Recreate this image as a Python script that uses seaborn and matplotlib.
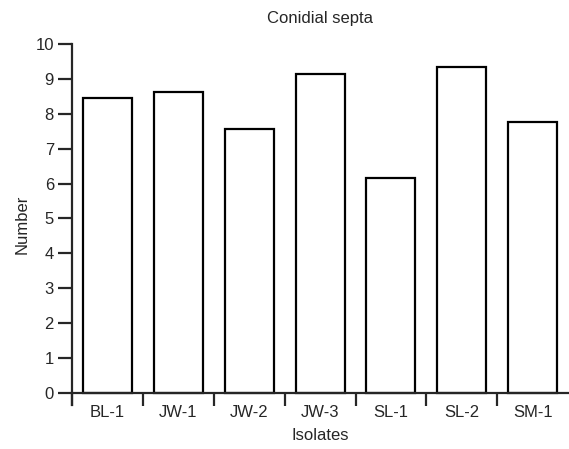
import numpy as np
import pandas as pd
import seaborn as sns
import matplotlib.pyplot as plt

isolates = ["BL-1", "JW-1", "JW-2", "JW-3", "SL-1", "SL-2", "SM-1"]
septa = [8.44, 8.63, 7.57, 9.14, 6.16, 9.33, 7.76]

sns.set_style("ticks")
plt.rcParams['font.family'] = ['Liberation Sans', 'DejaVu Sans']

df = pd.DataFrame({"Isolates": isolates, "Number": septa})

fig = plt.figure(figsize=(5.69, 4.49), dpi=100)
ax = fig.add_axes([0.1265, 0.098, 0.872, 0.804])

sns.barplot(data=df, x="Isolates", y="Number", order=isolates, color="white",
            edgecolor="black", linewidth=1.6, width=0.69, ax=ax)

ax.set_xlim(-0.5, 6.5)
ax.set_ylim(-0.35, 10)
ax.set_yticks(np.arange(0, 11, 1))

# ticks sit between the bars, labels under the bars
n = len(isolates)
ax.set_xticks(np.arange(n) - 0.5)
ax.set_xticklabels([])
ax.set_xticks(np.arange(n), minor=True)
ax.set_xticklabels(isolates, minor=True)
ax.tick_params(axis="x", which="major", direction="out", length=9.5, width=1.6)
ax.tick_params(axis="x", which="minor", length=0, labelsize=12, pad=9)
ax.tick_params(axis="y", direction="out", length=10, width=1.6, labelsize=12, pad=3)

sns.despine(ax=ax)
ax.spines["bottom"].set_position(("data", 0))
ax.spines["bottom"].set_linewidth(1.6)
ax.spines["left"].set_linewidth(1.6)

ax.set_xlabel("Isolates", fontsize=12)
ax.xaxis.set_label_coords(0.5, -0.064)
ax.set_ylabel("Number", fontsize=12)
ax.yaxis.set_label_coords(-0.086, 0.5)
ax.set_title("Conidial septa", fontsize=12, pad=15)

fig.savefig("out.png", dpi=100)
